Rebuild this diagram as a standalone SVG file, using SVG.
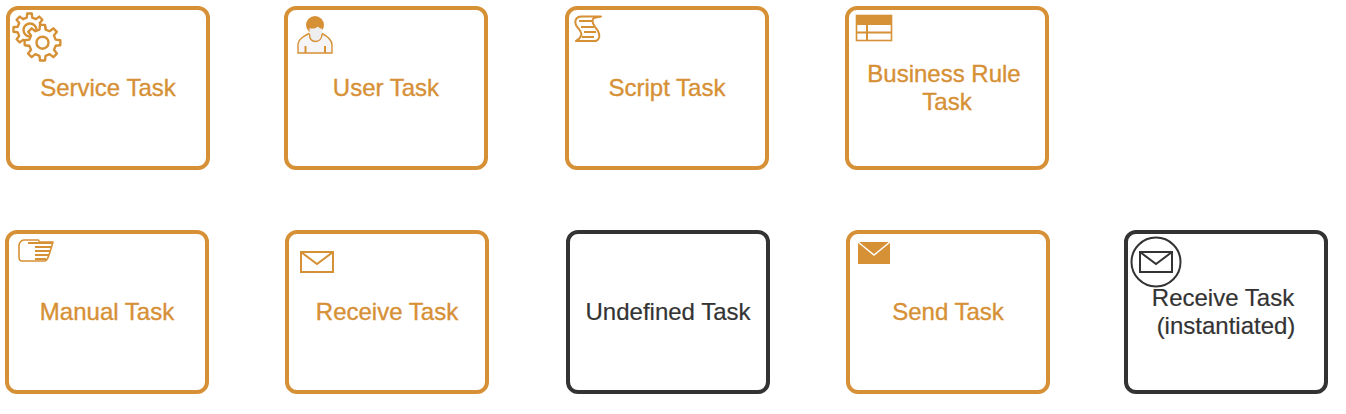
<svg xmlns="http://www.w3.org/2000/svg" width="1346" height="414" viewBox="0 0 1346 414">
<style>
.b{fill:#fff;stroke:#d69035;stroke-width:4}
.d{fill:#fff;stroke:#333;stroke-width:4}
text{font-family:"Liberation Sans",Arial,sans-serif;font-size:24px;text-anchor:middle;fill:#d69035;stroke:#d69035;stroke-width:.35}
text.k{fill:#333;stroke:#333;stroke-width:.2}
.i{fill:#fff;stroke:#d69035;stroke-width:2;stroke-linejoin:round}
.l{fill:none;stroke:#d69035;stroke-width:2}
</style>
<defs>
<path id="gear" d="M13.15-3.04L17.82-2.51 17.82 2.51 13.15 3.04 11.45 7.15 14.37 10.83 10.83 14.37 7.15 11.45 3.04 13.15 2.51 17.82-2.51 17.82-3.04 13.15-7.15 11.45-10.83 14.37-14.37 10.83-11.45 7.15-13.15 3.04-17.82 2.51-17.82-2.51-13.15-3.04-11.45-7.15-14.37-10.83-10.83-14.37-7.15-11.45-3.04-13.15-2.51-17.82 2.51-17.82 3.04-13.15 7.15-11.45 10.83-14.37 14.37-10.83 11.45-7.15Z"/>
</defs>
<g id="service-task">
<rect class="b" x="8" y="8" width="200" height="160" rx="10"/>
<use href="#gear" class="i" transform="translate(29.5 29.500) scale(.9)" style="stroke-width:2.600"/>
<circle class="i" cx="30" cy="30" r="6.500" style="stroke-width:2.400"/>
<use href="#gear" class="i" transform="translate(42.500 42.700)" style="stroke-width:2.400"/>
<circle class="i" cx="42.500" cy="42.700" r="6" style="stroke-width:2.400"/>
<text x="108" y="96">Service Task</text>
</g>
<g id="user-task">
<rect class="b" x="286" y="8" width="200" height="160" rx="10"/>
<path d="M298 53V45C298 39 304 36 309 33.500L322 33.500C327 36 332 39 332 45V53Z" fill="#f5f5f7" stroke="#d69035" stroke-width="1.400"/>
<circle cx="315" cy="25" r="9" fill="#d69035"/>
<path d="M309.500 28C311 29 315 29 318 26.500C319 28 321 28.500 322 29V35C322 39 319 41 315.500 41C312 41 309.500 38.500 309.500 35Z" fill="#eee"/>
<path d="M309.500 34C309.500 39 312 41.500 315.500 41.500C319 41.500 322 39 322 34" fill="none" stroke="#d69035" stroke-width="1.400"/>
<path class="l" stroke-width="1.400" d="M305.500 46V53M325 46V53"/>
<text x="386" y="96">User Task</text>
</g>
<g id="script-task">
<rect class="b" x="567" y="8" width="200" height="160" rx="10"/>
<path class="i" d="M601 16.500H581C576 17 574 21 576 25C578 29 583 32 581 36C580 38 578 40 576 41H596C600 39 600 35 598 31C595 27 590 21 594 18C596 17 599 17 601 16.500Z"/>
<path class="l" d="M579 21H592M581 27H594M584 32H596M582 37H594"/>
<text x="667" y="96">Script Task</text>
</g>
<g id="business-rule-task">
<rect class="b" x="847" y="8" width="200" height="160" rx="10"/>
<rect x="856.500" y="15.500" width="35" height="25" fill="#fff" stroke="#d69035" stroke-width="1.600"/>
<rect x="856" y="15" width="36" height="10" fill="#d69035"/>
<path class="l" d="M856 32.500H892M867 25V41"/>
<text x="944" y="82">Business Rule</text>
<text x="947" y="110">Task</text>
</g>
<g id="manual-task">
<rect class="b" x="7" y="232" width="200" height="160" rx="10"/>
<path class="i" d="M19 246C19 243 21 240 24 240H38C39 240 39 242 40 242H53L50 252C48 258 47 261 45 261H22C20 261 19 259 19 257Z" style="stroke-width:1.600"/>
<path class="l" d="M28 243H52M35 247H52M35 251H50M35 255H49M35 259H46" style="stroke-width:1.800"/>
<text x="107" y="320">Manual Task</text>
</g>
<g id="receive-task">
<rect class="b" x="287" y="232" width="200" height="160" rx="10"/>
<rect x="301" y="252" width="32" height="20" fill="#fff" stroke="#d69035" stroke-width="2"/>
<path class="l" d="M301 252L317 264 333 252"/>
<text x="387" y="320">Receive Task</text>
</g>
<g id="undefined-task">
<rect class="d" x="568" y="232" width="200" height="160" rx="10"/>
<text class="k" x="668" y="320">Undefined Task</text>
</g>
<g id="send-task">
<rect class="b" x="848" y="232" width="200" height="160" rx="10"/>
<rect x="858" y="242" width="32" height="22" fill="#d69035"/>
<path fill="none" stroke="#fff" stroke-width="1.500" d="M858 242L874 255 890 242"/>
<text x="948" y="320">Send Task</text>
</g>
<g id="receive-task-instantiated">
<rect class="d" x="1126" y="232" width="200" height="160" rx="10"/>
<circle cx="1156" cy="262" r="24.500" fill="#fff" stroke="#333" stroke-width="2"/>
<rect x="1140" y="252" width="32" height="20" fill="#fff" stroke="#333" stroke-width="2"/>
<path fill="none" stroke="#333" stroke-width="2" d="M1140 252L1156 264 1172 252"/>
<text class="k" x="1223" y="306">Receive Task</text>
<text class="k" x="1226" y="334">(instantiated)</text>
</g>
<g id="connectors"/>
</svg>
